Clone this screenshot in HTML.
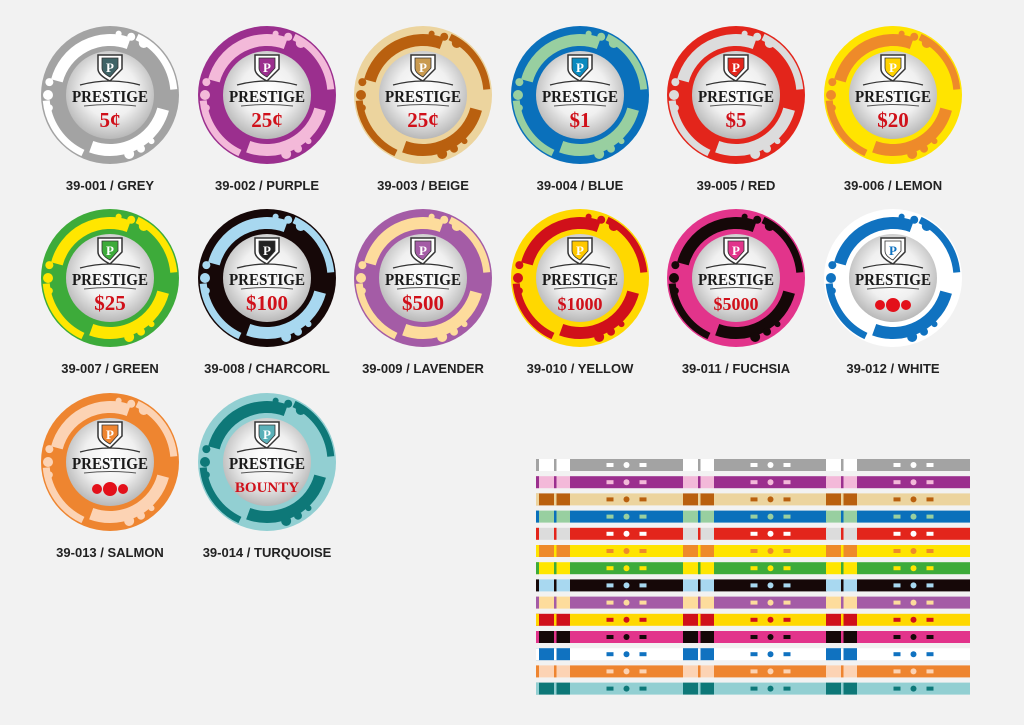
<!DOCTYPE html>
<html><head><meta charset="utf-8"><style>
html,body{margin:0;padding:0;background:#f2f2f2;width:1024px;height:725px;overflow:hidden}
svg{display:block}
</style></head><body>
<svg id="s" width="1024" height="725" xmlns="http://www.w3.org/2000/svg">
<defs>
<radialGradient id="ig" cx="50%" cy="45%" r="55%"><stop offset="0" stop-color="#ffffff"/><stop offset="0.55" stop-color="#f0f0f0"/><stop offset="1" stop-color="#b8b8b8"/></radialGradient>
</defs>
</svg>
<script>
var chips=[
["#a3a3a3","#ffffff","#3f6366","5¢","39-001 / GREY"],
["#9b2f8e","#f3b9d9","#9b2f8e","25¢","39-002 / PURPLE"],
["#ecd49e","#b9600f","#c99a50","25¢","39-003 / BEIGE"],
["#0a70bb","#98cfa0","#0a8abf","$1","39-004 / BLUE"],
["#e3251b","#dcdcdc","#e3251b","$5","39-005 / RED"],
["#ffe400","#ee8a2a","#ffd200","$20","39-006 / LEMON"],
["#3dab3a","#ffe600","#3dab3a","$25","39-007 / GREEN"],
["#160808","#a8d8f0","#222","$100","39-008 / CHARCORL"],
["#a45ca6","#fddc9c","#a45ca6","$500","39-009 / LAVENDER"],
["#ffd800","#d0101a","#ffc800","$1000","39-010 / YELLOW"],
["#e2348b","#150808","#e2348b","$5000","39-011 / FUCHSIA"],
["#ffffff","#1072c0","#ffffff","dots","39-012 / WHITE"],
["#ee8530","#fcd3b4","#ee8530","dots","39-013 / SALMON"],
["#92cfd2","#0e7878","#5ab0b8","BOUNTY","39-014 / TURQUOISE"]
];
var xs=[110,267,423,580,736,893],ys=[95,278,462];
function arc(cx,cy,r,a1,a2){var p=Math.PI/180;var x1=cx+r*Math.cos(a1*p),y1=cy+r*Math.sin(a1*p),x2=cx+r*Math.cos(a2*p),y2=cy+r*Math.sin(a2*p);return "M"+x1+" "+y1+" A"+r+" "+r+" 0 "+((a2-a1)>180?1:0)+" 1 "+x2+" "+y2;}
var h="";
chips.forEach(function(c,i){
 var cx=xs[i%6],cy=ys[Math.floor(i/6)],m=c[0],a=c[1];
 h+='<circle cx="'+cx+'" cy="'+cy+'" r="69" fill="'+m+'"/>';
 h+='<path d="'+arc(cx,cy,55,195,290)+'" stroke="'+a+'" stroke-width="12" fill="none"/>';
 h+='<path d="'+arc(cx,cy,55,15,110)+'" stroke="'+a+'" stroke-width="12" fill="none"/>';
 h+='<path d="'+arc(cx,cy,64,295,355)+'" stroke="'+a+'" stroke-width="7" fill="none"/>';
 h+='<path d="'+arc(cx,cy,64,115,175)+'" stroke="'+a+'" stroke-width="7" fill="none"/>';
 [[180,62,5],[192,62,4],[168,62,3.5],[290,62,4],[303,62,5],[278,62,3],[60,62,4],[72,62,5],[48,62,3]].forEach(function(d){var p=Math.PI/180;h+='<circle cx="'+(cx+d[1]*Math.cos(d[0]*p))+'" cy="'+(cy+d[1]*Math.sin(d[0]*p))+'" r="'+d[2]+'" fill="'+a+'"/>';});
 h+='<circle cx="'+cx+'" cy="'+cy+'" r="44" fill="url(#ig)"/>';
 var sx=cx,sy=cy-28;
 h+='<path d="M'+(sx-12)+' '+(sy-12)+' L'+(sx+12)+' '+(sy-12)+' L'+(sx+12)+' '+(sy+2)+' Q'+sx+' '+(sy+14)+' '+sx+' '+(sy+14)+' Q'+(sx-12)+' '+(sy+8)+' '+(sx-12)+' '+(sy+2)+'Z" fill="#fff" stroke="#333" stroke-width="1.5"/>';
 h+='<path d="M'+(sx-8)+' '+(sy-9)+' L'+(sx+8)+' '+(sy-9)+' L'+(sx+8)+' '+(sy+1)+' Q'+sx+' '+(sy+10)+' '+sx+' '+(sy+10)+' Q'+(sx-8)+' '+(sy+6)+' '+(sx-8)+' '+(sy+1)+'Z" fill="'+(c[2]=="#ffffff"?"#fff":c[2])+'" stroke="#333" stroke-width="0.8"/>';
 h+='<text x="'+sx+'" y="'+(sy+5)+'" font-family="Liberation Serif,serif" font-weight="bold" font-size="13" fill="'+(c[2]=="#ffffff"?"#1072c0":"#fff")+'" text-anchor="middle">P</text>';
 h+='<path d="M'+(cx-30)+' '+(cy-10)+' Q'+cx+' '+(cy-18)+' '+(cx+30)+' '+(cy-10)+'" stroke="#333" stroke-width="1.2" fill="none"/>';
 h+='<path d="M'+(cx-26)+' '+(cy+11)+' Q'+cx+' '+(cy+8)+' '+(cx+26)+' '+(cy+11)+'" stroke="#555" stroke-width="1" fill="none"/>';
 h+='<text x="'+cx+'" y="'+(cy+7)+'" font-family="Liberation Serif,serif" font-weight="bold" font-size="17" fill="#1a1a1a" text-anchor="middle" textLength="76" lengthAdjust="spacingAndGlyphs">PRESTIGE</text>';
 if(c[3]=="dots"){var dc="#e3101a";h+='<circle cx="'+(cx-13)+'" cy="'+(cy+27)+'" r="5" fill="'+dc+'"/><circle cx="'+cx+'" cy="'+(cy+27)+'" r="7" fill="'+dc+'"/><circle cx="'+(cx+13)+'" cy="'+(cy+27)+'" r="5" fill="'+dc+'"/>';}
 else if(c[3]=="BOUNTY"){h+='<text x="'+cx+'" y="'+(cy+30)+'" font-family="Liberation Serif,serif" font-weight="bold" font-size="15" fill="#d0101a" text-anchor="middle">BOUNTY</text>';}
 else {h+='<text x="'+cx+'" y="'+(cy+32)+'" font-family="Liberation Serif,serif" font-weight="bold" font-size="'+(c[3].length>4?18:21)+'" fill="#d0101a" text-anchor="middle">'+c[3]+'</text>';}
 h+='<text x="'+cx+'" y="'+(cy+95)+'" font-family="Liberation Sans,sans-serif" font-weight="bold" font-size="13" fill="#222" text-anchor="middle">'+c[4]+'</text>';
});
var st=[
["#a3a3a3","#ffffff","#fff"],["#9b2f8e","#f3b9d9","#f3b9d9"],["#ecd49e","#b9600f","#b9600f"],["#0a70bb","#98cfa0","#98cfa0"],
["#e3251b","#dcdcdc","#fff"],["#ffe400","#ee8a2a","#ee8a2a"],["#3dab3a","#ffe600","#ffe600"],["#160808","#a8d8f0","#a8d8f0"],
["#a45ca6","#fddc9c","#fddc9c"],["#ffd800","#d0101a","#d0101a"],["#e2348b","#150808","#150808"],["#ffffff","#1072c0","#1072c0"],
["#ee8530","#fcd3b4","#fcd3b4"],["#92cfd2","#0e7878","#0e7878"]];
st.forEach(function(s,i){
 var y=459+i*17.2,hh=12;
 [0,1,2].forEach(function(k){
  var mainX=k==0?570:(k==1?714:857),mainW=113;
  var left=k==0?536:(k==1?683:826);
  h+='<rect x="'+left+'" y="'+y+'" width="'+(mainX-left)+'" height="'+hh+'" fill="'+s[1]+'"/>';
  if(k==0)h+='<rect x="536" y="'+y+'" width="3" height="'+hh+'" fill="'+s[0]+'"/>';
  h+='<rect x="'+(left+(k==0?18:15))+'" y="'+y+'" width="2.5" height="'+hh+'" fill="'+s[0]+'"/>';
  h+='<rect x="'+mainX+'" y="'+y+'" width="'+mainW+'" height="'+hh+'" fill="'+s[0]+'"/>';
  var mx=mainX+mainW/2,my=y+hh/2;
  h+='<circle cx="'+mx+'" cy="'+my+'" r="3" fill="'+s[2]+'"/><rect x="'+(mx-20)+'" y="'+(my-2)+'" width="7" height="4" fill="'+s[2]+'"/><rect x="'+(mx+13)+'" y="'+(my-2)+'" width="7" height="4" fill="'+s[2]+'"/>';
 });
});
document.getElementById('s').insertAdjacentHTML('beforeend',h);
</script>
</body></html>
